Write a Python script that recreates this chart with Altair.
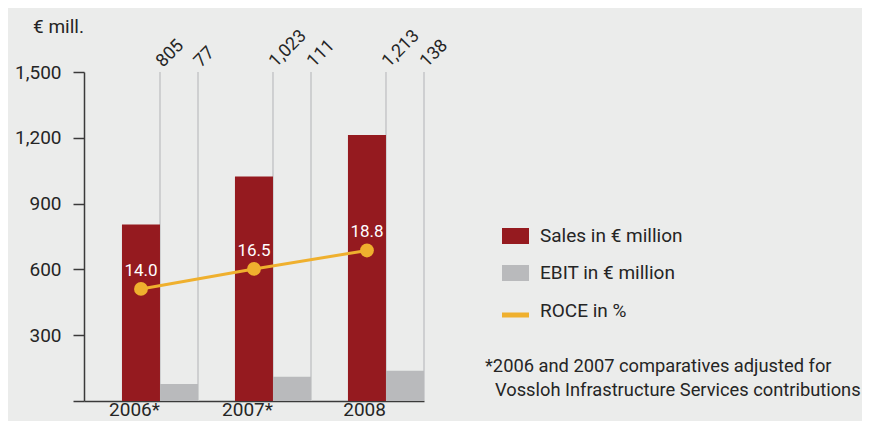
import altair as alt
import pandas as pd

# ---- data ----
years = ["2006*", "2007*", "2008"]
sales = [805, 1023, 1213]
ebit = [77, 111, 138]
roce = [14.0, 16.5, 18.8]
sales_labels = ["805", "1,023", "1,213"]
ebit_labels = ["77", "111", "138"]
roce_labels = ["14.0", "16.5", "18.8"]
series_names = ["Sales in € million", "EBIT in € million", "ROCE in %"]
series_colors = ["#951a1f", "#b9babc", "#efb02e"]
y_ticks = [0, 300, 600, 900, 1200, 1500]
unit_title = ["€ mill."]
footnote = ["*2006 and 2007 comparatives adjusted for",
            "Vossloh Infrastructure Services contributions"]

FONT = "Roboto"
BG = "#ebeceb"
TXT = "#252525"
AX = "#3a3a3a"
W, H = 340, 329
ROCE_FACTOR = 36.5  # ROCE % drawn on the € scale (1500 € mill. ≙ 41.1 %)

bars_df = pd.DataFrame({
    "year": years * 2,
    "series": [series_names[0]] * 3 + [series_names[1]] * 3,
    "value": sales + ebit,
    "label": sales_labels + ebit_labels,
})
roce_df = pd.DataFrame({"year": years, "roce": roce, "label": roce_labels})

x_scale = alt.Scale(domain=years, paddingInner=0.327, paddingOuter=0.168, align=1)
y_scale = alt.Scale(domain=[0, 1500], nice=False)

# vertical guide lines at right edge of each bar
def guide_layer(series_name, band_pos):
    base = alt.Chart(bars_df).transform_filter(alt.datum.series == series_name)
    rule = base.mark_rule(color="#c5c6c8", strokeWidth=1.5).encode(
        x=alt.X("year:N", bandPosition=band_pos),
        y=alt.datum(1500),
        y2=alt.datum(0),
    )
    lab = base.mark_text(angle=315, align="left", baseline="alphabetic",
                         font=FONT, fontSize=18, color=TXT,
                         xOffset=3, yOffset=-4).encode(
        x=alt.X("year:N", bandPosition=band_pos),
        y=alt.datum(1500),
        text="label:N",
    )
    return rule + lab

g_sales = guide_layer(series_names[0], 0.5)
g_ebit = guide_layer(series_names[1], 1.0)

bars = alt.Chart(bars_df).mark_bar().encode(
    x=alt.X("year:N", sort=years, scale=x_scale,
            axis=alt.Axis(title=None, labelAngle=0, ticks=False, domain=True,
                          domainColor=AX, domainWidth=1.5, labelPadding=8,
                          labelBaseline="middle",
                          labelFont=FONT, labelFontSize=19, labelColor=TXT)),
    xOffset=alt.XOffset("series:N", sort=series_names[:2],
                        scale=alt.Scale(paddingInner=0, paddingOuter=0)),
    y=alt.Y("value:Q", scale=y_scale,
            axis=alt.Axis(values=y_ticks, title=None,
                          labelExpr="datum.value == 0 ? '' : format(datum.value, ',')",
                          labelFont=FONT, labelFontSize=19, labelColor=TXT,
                          tickSize=11, tickColor=AX, tickWidth=1.5,
                          domainColor=AX, domainWidth=1.5, labelPadding=12,
                          grid=False)),
    color=alt.Color("series:N", scale=alt.Scale(domain=series_names[:2],
                                                range=series_colors[:2]),
                    legend=None),
)

roce_base = alt.Chart(roce_df).transform_calculate(pos=f"datum.roce * {ROCE_FACTOR}")
roce_y = alt.Y("pos:Q")
roce_x = alt.X("year:N", bandPosition=0.25)
roce_line = roce_base.mark_line(color=series_colors[2], strokeWidth=3).encode(
    x=roce_x, y=roce_y)
roce_pts = roce_base.mark_point(filled=True, size=190, opacity=1,
                                color=series_colors[2]).encode(x=roce_x, y=roce_y)
roce_txt = roce_base.mark_text(font=FONT, fontSize=17, color="white",
                               baseline="alphabetic", dy=-13).encode(
    x=roce_x, y=roce_y, text="label:N")

# ---- unit title, manual legend & footnote ----
title_layer = alt.Chart(pd.DataFrame({"t": unit_title})).mark_text(
    align="left", baseline="middle", font=FONT, fontSize=19, color=TXT).encode(
    x=alt.value(-51), y=alt.value(-45), text="t:N")

leg_df = pd.DataFrame({"name": series_names, "color": series_colors})
legend_layers = [title_layer]
rect_y = [156, 193]
text_y = [164, 201, 239]
for i in range(2):
    legend_layers.append(
        alt.Chart(leg_df).transform_filter(alt.datum.name == series_names[i])
        .mark_rect(color=series_colors[i])
        .encode(x=alt.value(418), x2=alt.value(445),
                y=alt.value(rect_y[i]), y2=alt.value(rect_y[i] + 16)))
legend_layers.append(
    alt.Chart(leg_df).transform_filter(alt.datum.name == series_names[2])
    .mark_rule(color=series_colors[2], strokeWidth=5)
    .encode(x=alt.value(418), x2=alt.value(445), y=alt.value(243)))
for i in range(3):
    legend_layers.append(
        alt.Chart(leg_df).transform_filter(alt.datum.name == series_names[i])
        .mark_text(align="left", baseline="middle", font=FONT, fontSize=19, color=TXT)
        .encode(x=alt.value(456), y=alt.value(text_y[i]), text="name:N"))

foot_df = pd.DataFrame({"line": footnote})
foot_x = [401, 411]
foot_y = [295, 319]
for i in range(2):
    legend_layers.append(
        alt.Chart(foot_df).transform_filter(alt.datum.line == footnote[i])
        .mark_text(align="left", baseline="middle", font=FONT, fontSize=18.3, color=TXT)
        .encode(x=alt.value(foot_x[i]), y=alt.value(foot_y[i]), text="line:N"))

chart = alt.layer(
    g_sales, g_ebit, bars, roce_line, roce_pts, roce_txt, *legend_layers
).properties(
    width=W, height=H,
    autosize=alt.AutoSizeParams(type="none"),
    padding={"left": 76, "top": 64, "right": 438, "bottom": 20},
    background=BG,
).configure_view(stroke=None)

chart.save("out.html", embed_options={"renderer": "svg", "actions": False})
